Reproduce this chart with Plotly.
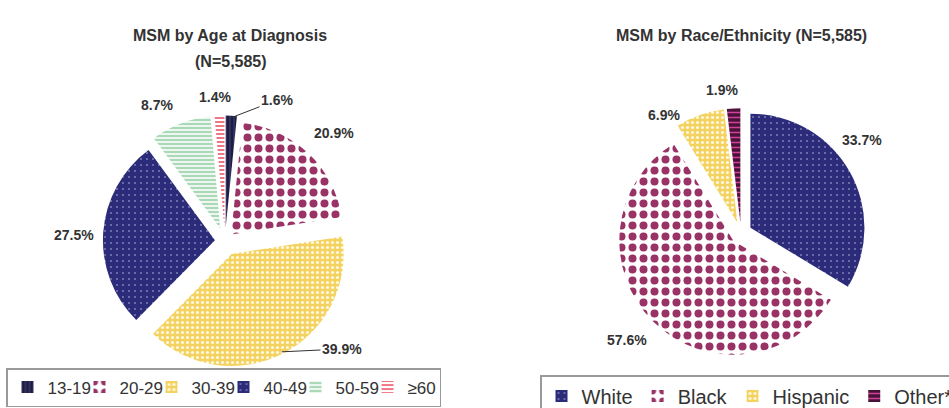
import math
import plotly.graph_objects as go

# ---------------- data ----------------
age_labels = ["13-19", "20-29", "30-39", "40-49", "50-59", "≥60"]
age_values = [1.6, 20.9, 39.9, 27.5, 8.7, 1.4]
age_title = "MSM by Age at Diagnosis"
age_subtitle = "(N=5,585)"

race_labels = ["White", "Black", "Hispanic", "Other*"]
race_values = [33.7, 57.6, 6.9, 1.9]
race_title = "MSM by Race/Ethnicity (N=5,585)"

# ---------------- layout / style ----------------
W, H = 949, 408
FONT = "Arial, Liberation Sans, sans-serif"
TXT = "#333333"

LEFT_C, LEFT_R = (225, 241), 112
LEFT_PULLS = [0.12, 0.08, 0.13, 0.09, 0.12, 0.12]
RIGHT_C, RIGHT_R = (741, 233), 114
RIGHT_PULLS = [0.095, 0.095, 0.095, 0.095]

NAVY = dict(shape=".", bgcolor="#2b2b7a", fgcolor="#c8c8f0", size=6, solidity=0.05)
MAROON = dict(shape=".", bgcolor="#ffffff", fgcolor="#993366", size=11, solidity=0.42)
YELLOW = dict(shape=".", bgcolor="#f4d260", fgcolor="#fff8e0", size=5, solidity=0.3)
GREEN = dict(shape="-", bgcolor="#a9d9b6", fgcolor="#ffffff", size=4, solidity=0.4)
PINK = dict(shape="-", bgcolor="#ffffff", fgcolor="#ee6677", size=4, solidity=0.45)
BLACKISH = dict(shape="|", bgcolor="#1e1e3c", fgcolor="#4a4aa0", size=4, solidity=0.2)
PLUM = dict(shape="-", bgcolor="#4a1238", fgcolor="#d04098", size=5, solidity=0.3)

age_patterns = [BLACKISH, MAROON, YELLOW, NAVY, GREEN, PINK]
race_patterns = [NAVY, MAROON, YELLOW, PLUM]

age_label_px = [(277, 100), (334, 133), (342, 349), (74, 235), (157, 105), (215, 97)]
race_label_px = [(862, 140), (627, 340), (664, 115), (722, 90)]
age_leader = [True, False, True, False, False, False]


def domain(c, r, pulls):
    half = r * (1 + max(pulls))
    return dict(x=[(c[0] - half) / W, (c[0] + half) / W],
                y=[1 - (c[1] + half) / H, 1 - (c[1] - half) / H])


def pattern_lists(pats):
    keys = ["shape", "bgcolor", "fgcolor", "size", "solidity"]
    d = {k: [p[k] for p in pats] for k in keys}
    d["fillmode"] = "replace"
    return d


def mid_angle(values, i):
    tot = sum(values)
    cum = sum(values[:i]) + values[i] / 2
    return 2 * math.pi * cum / tot


fig = go.Figure()
fig.add_trace(go.Pie(
    labels=age_labels, values=age_values, sort=False, direction="clockwise",
    rotation=0, pull=LEFT_PULLS, textinfo="none",
    hoverinfo="label+percent",
    marker=dict(colors=[p["bgcolor"] for p in age_patterns],
                line=dict(width=0), pattern=pattern_lists(age_patterns)),
    domain=domain(LEFT_C, LEFT_R, LEFT_PULLS), legend="legend",
))
fig.add_trace(go.Pie(
    labels=race_labels, values=race_values, sort=False, direction="clockwise",
    rotation=0, pull=RIGHT_PULLS, textinfo="none",
    hoverinfo="label+percent",
    marker=dict(colors=[p["bgcolor"] for p in race_patterns],
                line=dict(width=0), pattern=pattern_lists(race_patterns)),
    domain=domain(RIGHT_C, RIGHT_R, RIGHT_PULLS), legend="legend2",
))

ann = []
lab_font = dict(family=FONT, size=14, color=TXT)
common = dict(xref="paper", yref="paper", xanchor="center", yanchor="middle")
for i, v in enumerate(age_values):
    tx, ty = age_label_px[i]
    if age_leader[i]:
        a = mid_angle(age_values, i)
        d = LEFT_R * (1 + LEFT_PULLS[i]) - 2
        hx = LEFT_C[0] + d * math.sin(a)
        hy = LEFT_C[1] - d * math.cos(a)
        ann.append(dict(x=hx / W, y=1 - hy / H, text=f"<b>{v}%</b>",
                        showarrow=True, arrowhead=0, arrowwidth=1,
                        arrowcolor=TXT, ax=tx - hx, ay=ty - hy,
                        font=lab_font, **common))
    else:
        ann.append(dict(x=tx / W, y=1 - ty / H, text=f"<b>{v}%</b>",
                        showarrow=False, font=lab_font, **common))
for i, v in enumerate(race_values):
    tx, ty = race_label_px[i]
    ann.append(dict(x=tx / W, y=1 - ty / H, text=f"<b>{v}%</b>",
                    showarrow=False, font=lab_font, **common))

title_font = dict(family=FONT, size=16, color=TXT)
ann.append(dict(x=230 / W, y=1 - 35 / H, text=f"<b>{age_title}</b>",
                showarrow=False, font=title_font, **common))
ann.append(dict(x=231 / W, y=1 - 61 / H, text=f"<b>{age_subtitle}</b>",
                showarrow=False, font=title_font, **common))
ann.append(dict(x=741 / W, y=1 - 35 / H, text=f"<b>{race_title}</b>",
                showarrow=False, font=title_font, **common))

fig.update_layout(
    width=W, height=H, autosize=False,
    margin=dict(l=0, r=0, t=0, b=0, autoexpand=False),
    paper_bgcolor="white", plot_bgcolor="white",
    annotations=ann,
    legend=dict(orientation="h", x=6 / W, y=1 / H, xanchor="left", yanchor="bottom",
                bordercolor="#999999", borderwidth=1.5, entrywidth=27,
                font=dict(family=FONT, size=17, color=TXT), bgcolor="white"),
    legend2=dict(orientation="h", x=540 / W, y=1 - 375 / H, xanchor="left", yanchor="top",
                 bordercolor="#999999", borderwidth=1.5,
                 font=dict(family=FONT, size=20, color=TXT), bgcolor="white"),
)

fig.write_html("out.html", config={"displayModeBar": False},
               post_script="document.body.style.margin='0';document.body.style.overflow='hidden';")
